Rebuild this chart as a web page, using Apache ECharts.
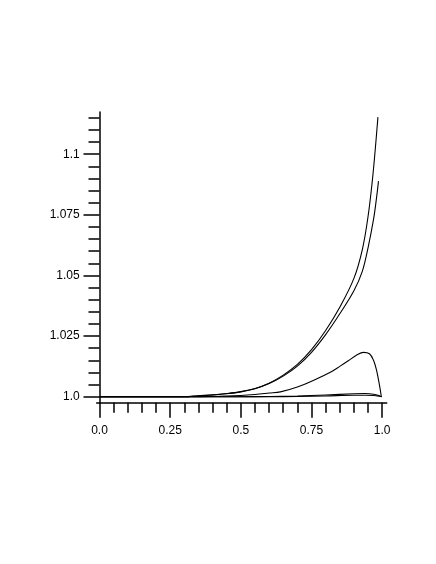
<!DOCTYPE html>
<html>
<head>
<meta charset="utf-8">
<script src="https://cdn.jsdelivr.net/npm/echarts@6/dist/echarts.min.js"></script>
<style>html,body{margin:0;padding:0;background:#fff}#c{width:436px;height:564px}</style>
</head>
<body>
<div id="c"></div>
<script>
// Data
var xA = [0, 0.3, 0.35, 0.4, 0.45, 0.5, 0.55, 0.6, 0.65, 0.7, 0.75, 0.8, 0.85, 0.9, 0.93, 0.95, 0.965, 0.975, 0.985];
var yA = [1, 1.0, 1.0004, 1.00075, 1.0013, 1.0021, 1.0034, 1.0056, 1.0089, 1.0133, 1.0194, 1.0273, 1.0369, 1.0488, 1.0608, 1.0743, 1.0889, 1.1013, 1.1153];
var xB = [0, 0.3, 0.35, 0.4, 0.45, 0.5, 0.55, 0.6, 0.65, 0.7, 0.75, 0.8, 0.85, 0.9, 0.93, 0.95, 0.97, 0.98, 0.987];
var yB = [1, 1.0, 1.0004, 1.0007, 1.0012, 1.0020, 1.0033, 1.0054, 1.0085, 1.0126, 1.0183, 1.0256, 1.0342, 1.0437, 1.0518, 1.0614, 1.0735, 1.082, 1.0889];
var xC = [0, 0.3, 0.4, 0.5, 0.55, 0.6, 0.64, 0.7, 0.76, 0.82, 0.85, 0.88, 0.91, 0.934, 0.955, 0.969, 0.98, 0.987, 0.993, 0.997];
var yC = [1, 1.0, 1.0001, 1.0005, 1.0009, 1.0015, 1.002, 1.004, 1.0069, 1.0103, 1.0125, 1.0148, 1.0172, 1.0183, 1.0177, 1.0151, 1.011, 1.0069, 1.003, 1.0];
var xD = [0, 0.5, 0.6, 0.7, 0.8, 0.9, 0.94, 0.97, 0.99, 0.998];
var yD = [1, 1.0, 1.0001, 1.0003, 1.0007, 1.0012, 1.0013, 1.0010, 1.0004, 1.0];
var yE = [1, 1.0, 1.0, 1.0001, 1.0003, 1.0006, 1.0006, 1.0005, 1.0002, 1.0];
var xMajorTicks = [0, 0.25, 0.5, 0.75, 1.0];
var xTickLabels = ['0.0', '0.25', '0.5', '0.75', '1.0'];
var yMajorTicks = [1.0, 1.025, 1.05, 1.075, 1.1];
var yTickLabels = ['1.0', '1.025', '1.05', '1.075', '1.1'];

function pairs(xs, ys) { return xs.map(function (x, i) { return [x, ys[i]]; }); }
var xMinor = []; for (var i = 0; i <= 20; i++) xMinor.push(+(i * 0.05).toFixed(2));
var yMinor = []; for (var j = 0; j <= 23; j++) yMinor.push(+(1 + j * 0.005).toFixed(3));

var XMIN = -0.0099, XMAX = 1.016, YMIN = 0.99753, YMAX = 1.1174;
var lineCol = '#000';
var font = 'Liberation Sans, Arial, Helvetica, sans-serif';

function xAx(major) {
  return {
    type: 'value', min: XMIN, max: XMAX, position: 'bottom',
    axisLine: { show: !major, onZero: false, lineStyle: { color: lineCol, width: 1.5 } },
    splitLine: { show: false },
    axisTick: { show: true, inside: false, length: major ? 15 : 10, customValues: major ? xMajorTicks : xMinor, lineStyle: { color: lineCol, width: 1.5 } },
    axisLabel: major ? {
      show: true, customValues: xMajorTicks, margin: 22, color: '#000', fontSize: 12, fontFamily: font,
      formatter: function (v) { var k = xMajorTicks.findIndex(function (t) { return Math.abs(t - v) < 1e-6; }); return k >= 0 ? xTickLabels[k] : ''; }
    } : { show: false }
  };
}
function yAx(major) {
  return {
    type: 'value', min: YMIN, max: YMAX, position: 'left',
    axisLine: { show: !major, onZero: true, onZeroAxisIndex: 0, lineStyle: { color: lineCol, width: 1.5 } },
    splitLine: { show: false },
    axisTick: { show: true, inside: false, length: major ? 16 : 11, customValues: major ? yMajorTicks : yMinor, lineStyle: { color: lineCol, width: 1.5 } },
    axisLabel: major ? {
      show: true, customValues: yMajorTicks, margin: 17, color: '#000', fontSize: 12, fontFamily: font,
      formatter: function (v) { var k = yMajorTicks.findIndex(function (t) { return Math.abs(t - v) < 1e-6; }); return k >= 0 ? yTickLabels[k] : ''; }
    } : { show: false }
  };
}
function ser(data) {
  return { type: 'line', data: data, showSymbol: false, smooth: 0.35, xAxisIndex: 0, yAxisIndex: 0,
    lineStyle: { color: '#000', width: 1.1 }, silent: true, animation: false };
}

var chart = echarts.init(document.getElementById('c'), null, { renderer: 'canvas' });
chart.setOption({
  animation: false,
  backgroundColor: '#fff',
  grid: { left: 96.7, right: 49.3, top: 112, bottom: 161.3, containLabel: false },
  xAxis: [xAx(false), xAx(true)],
  yAxis: [yAx(false), yAx(true)],
  series: [
    ser(pairs(xA, yA)), ser(pairs(xB, yB)), ser(pairs(xC, yC)),
    ser(pairs(xD, yD)), ser(pairs(xD, yE))
  ]
});
</script>
</body>
</html>
